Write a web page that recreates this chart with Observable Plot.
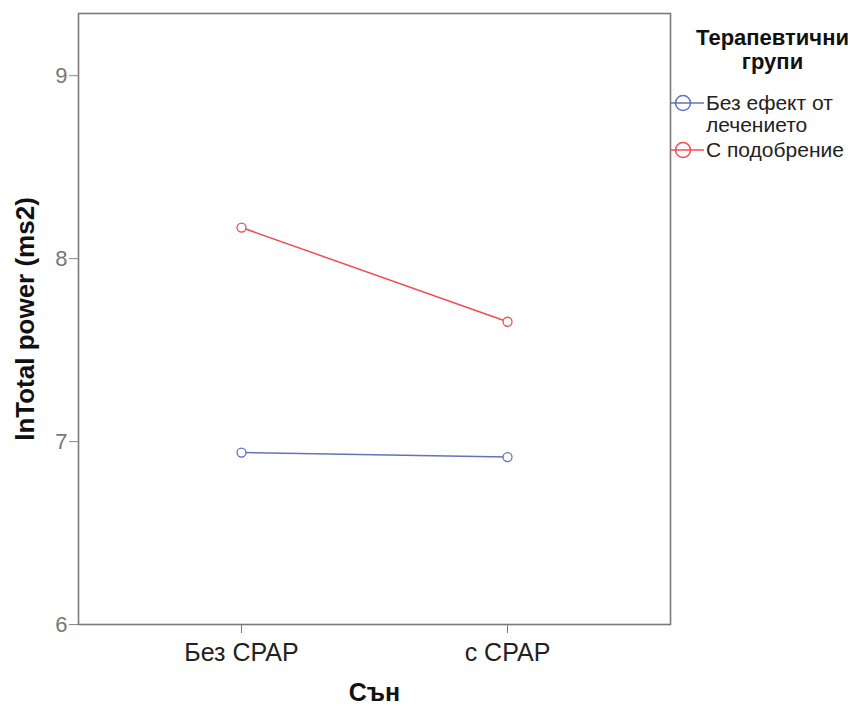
<!DOCTYPE html>
<html>
<head>
<meta charset="utf-8">
<script src="https://cdn.jsdelivr.net/npm/d3@7"></script>
<script src="https://cdn.jsdelivr.net/npm/@observablehq/plot@0.6"></script>
<style>
  html, body { margin: 0; padding: 0; background: #fff; }
  #wrap { position: relative; width: 863px; height: 708px; font-family: "Liberation Sans", Arial, sans-serif; }
  #legend { position: absolute; left: 670px; top: 26px; width: 193px; }
  #legend .title { font-weight: bold; font-size: 22px; line-height: 24px; text-align: center; color: #111; padding-left: 12px; }
  #legend .item { display: flex; align-items: flex-start; }
  #legend .sym { flex: 0 0 36px; height: 22px; }
  #legend .lab { font-size: 21px; line-height: 22px; color: #222; width: 155px; white-space: nowrap; }
</style>
</head>
<body>
<div id="wrap"></div>
<script>
const categories = ["Без CPAP", "с CPAP"];
const groups = ["Без ефект от лечението", "С подобрение"];
const groupLines = [["Без ефект от", "лечението"], ["С подобрение"]];
const noEffect = [6.94, 6.915];
const improved = [8.17, 7.655];
const yTicks = [6, 7, 8, 9];
const colors = ["#6272bb", "#ef4d52"];
const xTitle = "Сън";
const yTitle = "lnTotal power (ms2)";
const legendTitle = ["Терапевтични", "групи"];

const data = [];
categories.forEach((c, i) => {
  data.push({cat: c, group: groups[0], value: noEffect[i]});
  data.push({cat: c, group: groups[1], value: improved[i]});
});

const chart = Plot.plot({
  width: 863,
  height: 708,
  marginLeft: 78,
  marginRight: 193,
  marginTop: 13,
  marginBottom: 84,
  style: {fontFamily: "Liberation Sans, Arial, sans-serif", background: "#fff"},
  x: {type: "point", domain: categories, padding: 0.61},
  y: {domain: [6, 9.34]},
  color: {domain: groups, range: colors},
  marks: [
    Plot.axisY({ticks: yTicks, tickFormat: d3.format("d"), tickSize: 9, tickPadding: 2, fontSize: 22, color: "#777", stroke: "#888", label: null}),
    Plot.axisX({tickSize: 9, tickPadding: 10, fontSize: 25, color: "#222", stroke: "#777", label: null}),
    Plot.frame({stroke: "#7a7a7a", strokeWidth: 1.6}),
    Plot.line(data, {x: "cat", y: "value", z: "group", stroke: "group", strokeWidth: 1.5}),
    Plot.dot(data, {x: "cat", y: "value", stroke: "group", r: 4.5, strokeWidth: 1.3, fill: "white"}),
    Plot.text([xTitle], {frameAnchor: "bottom", dy: 68, lineAnchor: "middle", text: d => d, fontSize: 25, fontWeight: "bold", fill: "#111"}),
    Plot.text([yTitle], {frameAnchor: "left", dx: -53, rotate: -90, textAnchor: "middle", text: d => d, fontSize: 26, fontWeight: "bold", fill: "#111"})
  ]
});

const wrap = document.getElementById("wrap");
wrap.appendChild(chart);

const legend = document.createElement("div");
legend.id = "legend";
let html = `<div class="title">${legendTitle.join("<br>")}</div><div style="height:18px"></div>`;
groups.forEach((g, i) => {
  html += `<div class="item"><svg class="sym" width="36" height="22"><line x1="0" x2="34" y1="11" y2="11" stroke="${colors[i]}" stroke-width="1.5"/><circle cx="13" cy="11" r="7.5" fill="none" stroke="${colors[i]}" stroke-width="1.5"/></svg><div class="lab">${groupLines[i].join("<br>")}</div></div>`;
  if (i === 0) html += `<div style="height:3px"></div>`;
});
legend.innerHTML = html;
wrap.appendChild(legend);
</script>
</body>
</html>
